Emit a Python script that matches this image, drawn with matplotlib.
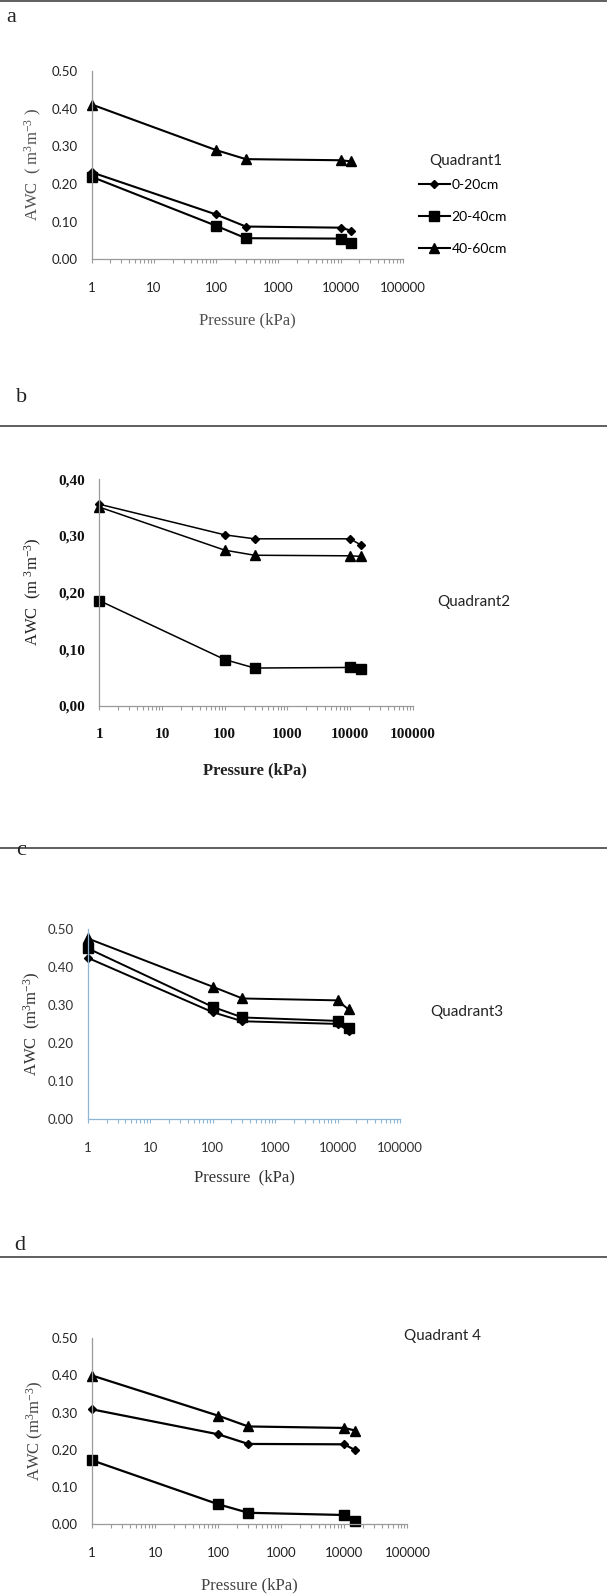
import numpy as np
import matplotlib
matplotlib.use("Agg")
import matplotlib.pyplot as plt
from matplotlib.lines import Line2D
from matplotlib.ticker import FixedLocator, LogLocator, FuncFormatter, NullFormatter

# pressure steps (kPa)
pressure = [1, 100, 300, 10000, 15000]
depths = ["0-20cm", "20-40cm", "40-60cm"]

# AWC (m3 m-3), per quadrant and depth
q1_0_20 = [0.231, 0.119, 0.087, 0.084, 0.076]
q1_20_40 = [0.219, 0.089, 0.056, 0.055, 0.043]
q1_40_60 = [0.411, 0.290, 0.266, 0.263, 0.260]

q2_0_20 = [0.356, 0.302, 0.295, 0.295, 0.284]
q2_20_40 = [0.186, 0.082, 0.067, 0.068, 0.065]
q2_40_60 = [0.351, 0.275, 0.266, 0.265, 0.264]

q3_0_20 = [0.425, 0.282, 0.258, 0.251, 0.233]
q3_20_40 = [0.450, 0.296, 0.268, 0.259, 0.240]
q3_40_60 = [0.476, 0.349, 0.318, 0.313, 0.289]

q4_0_20 = [0.309, 0.242, 0.216, 0.215, 0.199]
q4_20_40 = [0.172, 0.054, 0.031, 0.025, 0.010]
q4_40_60 = [0.400, 0.292, 0.263, 0.259, 0.252]

xticks = [1, 10, 100, 1000, 10000, 100000]
titles = ["Quadrant1", "Quadrant2", "Quadrant3", "Quadrant 4"]
letters = ["a", "b", "c", "d"]

plt.rcParams['mathtext.fontset'] = 'custom'
plt.rcParams['mathtext.rm'] = 'Liberation Serif'
plt.rcParams['mathtext.it'] = 'Liberation Serif:italic'
plt.rcParams['mathtext.bf'] = 'Liberation Serif:bold'

W, H = 607, 1596
fig = plt.figure(figsize=(W / 100, H / 100), dpi=100)

serif = 'Liberation Serif'
sans = 'Lato'
markers = ['D', 's', '^']
msizes = [4.5, 6.5, 7]

# panel layout in pixels: axis box, label spots etc.
panels = [
    dict(data=[q1_0_20, q1_20_40, q1_40_60], box=(91.7, 402.7, 71, 259.3), ymax=0.5,
         sep=1, letter=(11, 17), title=(429, 161), ylab=(33, 165), xlab=(247, 320),
         ylabel='AWC  ( m$^3$m$^{-3}$ )', xlabel='Pressure (kPa)', lw=1.5,
         spine='#9a9a9a', tickfont=dict(family=sans, size=9.5, color='#222222'),
         labcol='#505050', dec='.', xlbold='normal'),
    dict(data=[q2_0_20, q2_20_40, q2_40_60], box=(99.3, 412.7, 479.3, 706), ymax=0.4,
         sep=426, letter=(22, 398), title=(437, 602), ylab=(33, 592),  xlab=(255, 770),
         ylabel='AWC  (m $^3$m$^{-3}$)', xlabel='Pressure (kPa)', lw=1.1,
         spine='#9a9a9a', tickfont=dict(family=serif, size=11, color='#111111', weight='bold'),
         labcol='#222222', dec=',', xlbold='bold'),
    dict(data=[q3_0_20, q3_20_40, q3_40_60], box=(87.7, 400, 929.3, 1119.3), ymax=0.5,
         sep=848, letter=(21, 850), title=(430, 1012), ylab=(32, 1024), xlab=(244, 1177),
         ylabel='AWC  (m$^3$m$^{-3}$)', xlabel='Pressure  (kPa)', lw=1.4,
         spine='#8db6d6', tickfont=dict(family=sans, size=9.5, color='#333333'),
         labcol='#333333', dec='.', xlbold='normal'),
    dict(data=[q4_0_20, q4_20_40, q4_40_60], box=(92, 407.3, 1338.3, 1524.3), ymax=0.5,
         sep=1257, letter=(20, 1245), title=(404, 1336), ylab=(35, 1431), xlab=(249, 1585),
         ylabel='AWC (m$^3$m$^{-3}$)', xlabel='Pressure (kPa)', lw=1.6,
         spine='#9a9a9a', tickfont=dict(family=sans, size=9.5, color='#222222'),
         labcol='#444444', dec='.', xlbold='normal'),
]

for k, p in enumerate(panels):
    x0, x1, yt, yb = p['box']
    aw, ah = x1 - x0, yb - yt
    ax = fig.add_axes([x0 / W, 1 - yb / H, aw / W, ah / H])

    handles = []
    for i, vals in enumerate(p['data']):
        h, = ax.plot(pressure, vals, color='black', lw=p['lw'], marker=markers[i],
                     ms=msizes[i], mfc='black', mec='black', label=depths[i], clip_on=False)
        handles.append(h)

    ax.set_xscale('log')
    ax.set_xlim(1, 100000)
    ax.set_ylim(0, p['ymax'])
    ax.xaxis.set_major_locator(FixedLocator(xticks))
    ax.xaxis.set_minor_locator(LogLocator(base=10, subs=np.arange(2, 10)))
    ax.xaxis.set_minor_formatter(NullFormatter())
    ax.xaxis.set_major_formatter(FuncFormatter(lambda v, pos: '%d' % v))
    ax.yaxis.set_major_locator(FixedLocator(np.arange(0, p['ymax'] + 0.01, 0.1)))
    dec = p['dec']
    ax.yaxis.set_major_formatter(FuncFormatter(lambda v, pos, d=dec: ('%.2f' % v).replace('.', d)))

    for s in ['top', 'right']:
        ax.spines[s].set_visible(False)
    for s in ['left', 'bottom']:
        ax.spines[s].set_color(p['spine'])
        ax.spines[s].set_linewidth(0.9)

    ax.tick_params(axis='x', which='both', direction='out', length=3, width=0.8,
                   color=p['spine'], pad=13)
    ax.tick_params(axis='y', length=0, pad=10)
    for lab in ax.get_xticklabels() + ax.get_yticklabels():
        lab.set_fontfamily(p['tickfont']['family'])
        lab.set_fontsize(p['tickfont']['size'])
        lab.set_color(p['tickfont']['color'])
        lab.set_fontweight(p['tickfont'].get('weight', 'normal'))

    ax.set_xlabel(p['xlabel'], family=serif, fontsize=12, color=p['labcol'],
                  fontweight=p['xlbold'], va='center')
    ax.xaxis.set_label_coords((p['xlab'][0] - x0) / aw, (yb - p['xlab'][1]) / ah)
    ax.set_ylabel(p['ylabel'], family=serif, fontsize=12,
                  color=p['labcol'], va='center')
    ax.yaxis.set_label_coords((p['ylab'][0] - x0) / aw, (yb - p['ylab'][1]) / ah)

    fig.text(p['title'][0] / W, 1 - p['title'][1] / H, titles[k], family=sans,
             fontsize=11, color='#222222', ha='left', va='center')
    fig.text(p['letter'][0] / W, 1 - p['letter'][1] / H, letters[k], family=serif,
             fontsize=16, color='#222222', ha='center', va='center')
    fig.add_artist(Line2D([0, 1], [1 - p['sep'] / H] * 2, color='#333333', lw=1.1))

    if k == 0:
        ax.legend(handles=handles, loc='center left', bbox_to_anchor=(419 / W, 1 - 217 / H),
                  bbox_transform=fig.transFigure, frameon=False, borderpad=0,
                  borderaxespad=0, handlelength=2.2, handletextpad=0.15,
                  labelspacing=1.45, prop=dict(family=sans, size=10))

fig.savefig('out.png', dpi=100, facecolor='white')
